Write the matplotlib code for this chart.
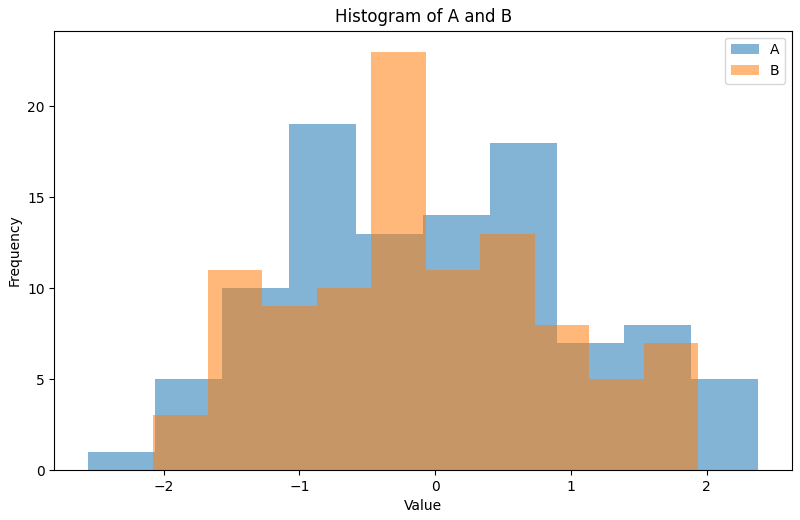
import numpy as np
import matplotlib
matplotlib.use('Agg')
import matplotlib.pyplot as plt

# counts per bin (10 bins each)
a_counts = [1, 5, 10, 19, 13, 14, 18, 7, 8, 5]
b_counts = [3, 11, 9, 10, 23, 11, 13, 8, 5, 7]

# data range of each sample
a_range = (-2.558, 2.380)
b_range = (-2.076, 1.937)

a_edges = np.linspace(a_range[0], a_range[1], len(a_counts) + 1)
b_edges = np.linspace(b_range[0], b_range[1], len(b_counts) + 1)
a_mid = (a_edges[:-1] + a_edges[1:]) / 2
b_mid = (b_edges[:-1] + b_edges[1:]) / 2

fig, ax = plt.subplots(figsize=(8, 5.2), dpi=100)
fig.subplots_adjust(left=0.068, right=0.99, top=0.941, bottom=0.096)

ax.hist(a_mid, bins=a_edges, weights=a_counts, alpha=0.55,
        histtype='stepfilled', label='A')
ax.hist(b_mid, bins=b_edges, weights=b_counts, alpha=0.55,
        histtype='stepfilled', label='B')

ax.set_title('Histogram of A and B')
ax.set_xlabel('Value')
ax.set_ylabel('Frequency')
ax.legend()

fig.savefig('out.png', dpi=100)
